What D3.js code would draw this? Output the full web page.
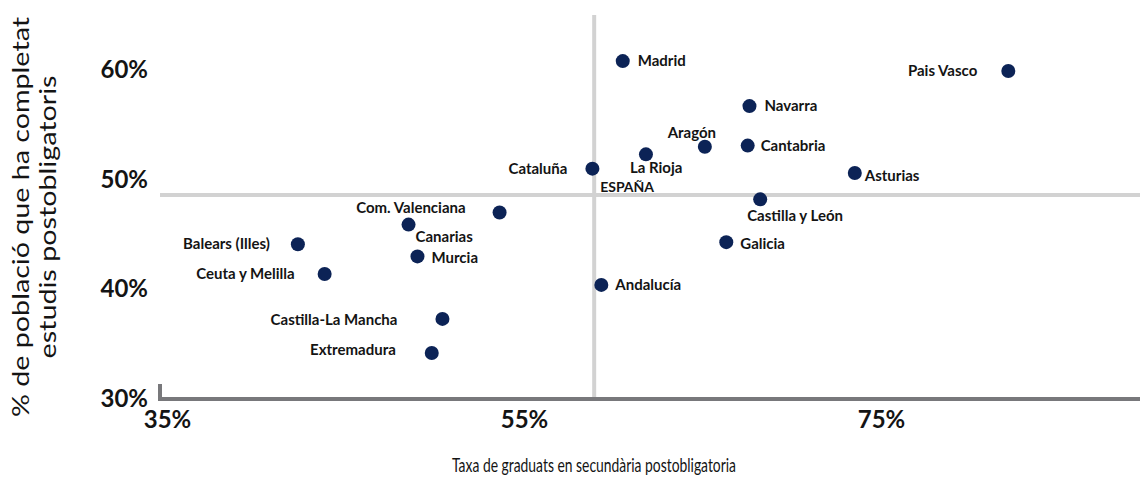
<!DOCTYPE html>
<html>
<head>
<meta charset="utf-8">
<script src="https://cdn.jsdelivr.net/npm/d3@7/dist/d3.min.js"></script>
<style>
    body { margin: 0; background: #ffffff; }
</style>
</head>
<body>
<script>
/* ========= Data ========= */
var regions = ["Madrid", "Pais Vasco", "Navarra", "Aragón", "Cantabria", "La Rioja", "Cataluña",
    "Asturias", "Castilla y León", "Galicia", "Andalucía", "Com. Valenciana", "Canarias",
    "Balears (Illes)", "Murcia", "Ceuta y Melilla", "Castilla-La Mancha", "Extremadura"];
// Taxa de graduats en secundària postobligatoria (%)
var graduationRate = [60.7, 82.3, 67.8, 65.3, 67.7, 62.0, 59.0,
    73.7, 68.4, 66.5, 59.5, 53.8, 48.7,
    42.5, 49.2, 44.0, 50.6, 50.0];
// % de població que ha completat estudis postobligatoris
var completedRate = [60.8, 59.9, 56.7, 53.0, 53.1, 52.3, 51.0,
    50.6, 48.2, 44.3, 40.4, 47.0, 45.9,
    44.1, 43.0, 41.4, 37.3, 34.2];
// Spain average: drawn as the two reference lines
var spainLabel = "ESPAÑA";
var spainGraduation = 59.1;
var spainCompleted = 48.6;

var xTicks = [35, 55, 75];
var yTicks = [30, 40, 50, 60];
var xTitle = "Taxa de graduats en secundària postobligatoria";
var yTitle = ["% de població que ha completat", "estudis postobligatoris"];

/* ========= Constants ========= */
var w = 1140;
var h = 479;
var dotColor = "#0c2356";
var textColor = "#141414";
var refColor = "#d2d2d2";
var axisColor = "#78787b";
var fontFamily = "Lato, 'Open Sans', sans-serif";

// label offsets from each dot: [dx, dy, anchor]
var labelPlacement = {
    "Madrid": [15, 5, "start"],
    "Pais Vasco": [-31, 5, "end"],
    "Navarra": [15, 5, "start"],
    "Aragón": [-13, -9, "middle"],
    "Cantabria": [13, 5, "start"],
    "La Rioja": [-16, 19, "start"],
    "Cataluña": [-25, 5, "end"],
    "Asturias": [10, 8, "start"],
    "Castilla y León": [-13, 22, "start"],
    "Galicia": [14, 7, "start"],
    "Andalucía": [14, 5, "start"],
    "Com. Valenciana": [-34, 0, "end"],
    "Canarias": [7, 17, "start"],
    "Balears (Illes)": [-28, 5, "end"],
    "Murcia": [14, 7, "start"],
    "Ceuta y Melilla": [-30, 5, "end"],
    "Castilla-La Mancha": [-45, 6, "end"],
    "Extremadura": [-36, 2, "end"]
};

/* ========= Scales ========= */
var xScale = d3.scaleLinear()
    .domain([35, 90])
    .range([164, 164 + 55 * 17.85]);
var yScale = d3.scaleLinear()
    .domain([30, 65])
    .range([399, 399 - 35 * 10.97]);

var svg = d3.select("body")
    .append("svg")
    .attr("width", w)
    .attr("height", h)
    .style("display", "block");

/* ========= Reference lines (Spain) ========= */
svg.append("line")
    .attr("x1", xScale(spainGraduation))
    .attr("x2", xScale(spainGraduation))
    .attr("y1", yScale(65))
    .attr("y2", yScale(30))
    .attr("stroke", refColor)
    .attr("stroke-width", 4);
svg.append("line")
    .attr("x1", xScale(35) - 4)
    .attr("x2", w)
    .attr("y1", yScale(spainCompleted))
    .attr("y2", yScale(spainCompleted))
    .attr("stroke", refColor)
    .attr("stroke-width", 4);

/* ========= Axes ========= */
var xAxis = svg.append("g")
    .attr("transform", "translate(0," + yScale(30) + ")")
    .call(d3.axisBottom(xScale)
        .tickValues(xTicks)
        .tickSize(0)
        .tickPadding(12)
        .tickFormat(function (d) { return d + "%"; }));
xAxis.select(".domain").remove();
xAxis.selectAll("text")
    .attr("font-family", fontFamily)
    .attr("font-size", 24)
    .attr("font-weight", "bold")
    .attr("fill", textColor)
    .attr("dx", 3);

var yAxis = svg.append("g")
    .attr("transform", "translate(" + (xScale(35) - 4) + ",0)")
    .call(d3.axisLeft(yScale)
        .tickValues(yTicks)
        .tickSize(0)
        .tickPadding(12)
        .tickFormat(function (d) { return d + "%"; }));
yAxis.select(".domain").remove();
yAxis.selectAll("text")
    .attr("font-family", fontFamily)
    .attr("font-size", 24)
    .attr("font-weight", "bold")
    .attr("fill", textColor);

// axis lines: short vertical stub and thick baseline
svg.append("path")
    .attr("d", "M" + (xScale(35) - 4) + "," + (yScale(30) - 15) +
        "V" + yScale(30) + "H" + w)
    .attr("fill", "none")
    .attr("stroke", axisColor)
    .attr("stroke-width", 4);

/* ========= Points ========= */
var points = regions.map(function (r, i) {
    return { name: r, x: graduationRate[i], y: completedRate[i] };
});

svg.append("g")
    .selectAll("circle")
    .data(points)
    .enter()
    .append("circle")
    .attr("cx", function (d) { return xScale(d.x); })
    .attr("cy", function (d) { return yScale(d.y); })
    .attr("r", 7)
    .attr("fill", dotColor);

svg.append("g")
    .selectAll("text")
    .data(points)
    .enter()
    .append("text")
    .attr("x", function (d) { return xScale(d.x) + labelPlacement[d.name][0]; })
    .attr("y", function (d) { return yScale(d.y) + labelPlacement[d.name][1]; })
    .attr("text-anchor", function (d) { return labelPlacement[d.name][2]; })
    .attr("font-family", fontFamily)
    .attr("font-size", 15)
    .attr("font-weight", "bold")
    .attr("fill", textColor)
    .text(function (d) { return d.name; });

svg.append("text")
    .attr("x", xScale(spainGraduation) + 6)
    .attr("y", yScale(spainCompleted) - 3)
    .attr("font-family", fontFamily)
    .attr("font-size", 14)
    .attr("font-weight", "bold")
    .attr("fill", textColor)
    .text(spainLabel);

/* ========= Titles ========= */
svg.append("text")
    .attr("x", 594)
    .attr("y", 472)
    .attr("text-anchor", "middle")
    .attr("font-family", fontFamily)
    .attr("font-size", 19)
    .attr("fill", textColor)
    .attr("textLength", 284)
    .attr("lengthAdjust", "spacingAndGlyphs")
    .text(xTitle);

var yTitleText = svg.append("text")
    .attr("transform", "translate(0,217) rotate(-90)")
    .attr("text-anchor", "middle")
    .attr("font-family", fontFamily)
    .attr("font-size", 24)
    .attr("fill", textColor);
yTitleText.append("tspan")
    .attr("x", 0)
    .attr("y", 29)
    .attr("textLength", 400)
    .attr("lengthAdjust", "spacingAndGlyphs")
    .text(yTitle[0]);
yTitleText.append("tspan")
    .attr("x", 0)
    .attr("y", 56)
    .attr("textLength", 283)
    .attr("lengthAdjust", "spacingAndGlyphs")
    .text(yTitle[1]);
</script>
</body>
</html>
